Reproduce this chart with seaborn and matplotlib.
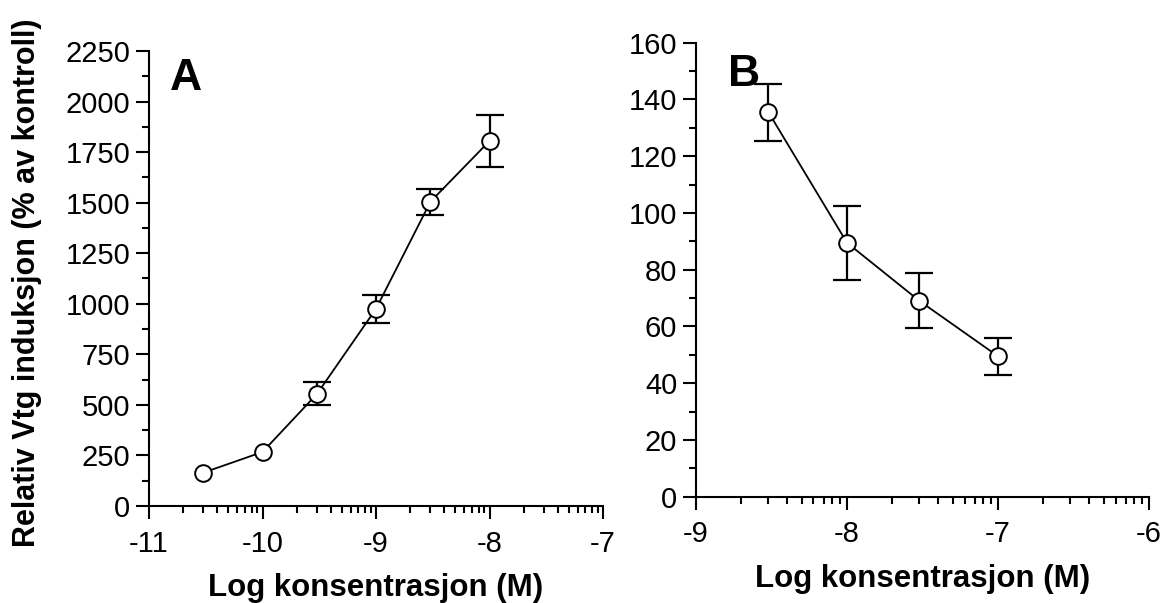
"""Vtg-induksjon: to paneler (A, B) med dose-respons og feilstolper."""

import matplotlib
matplotlib.use("Agg")
import matplotlib.pyplot as plt
import numpy as np
import pandas as pd
import seaborn as sns
from matplotlib.ticker import FixedLocator, MultipleLocator

sns.set_theme(style="ticks")
plt.rcParams["font.family"] = ["Liberation Sans", "DejaVu Sans"]
plt.rcParams["text.color"] = "black"
plt.rcParams["axes.labelcolor"] = "black"

# ---------- data ----------
a_logconc = [-10.52, -10.0, -9.52, -9.0, -8.52, -8.0]
a_mean = [165, 267, 554, 975, 1505, 1805]
a_err = [38, 30, 57, 69, 65, 127]

b_logconc = [-8.52, -8.0, -7.52, -7.0]
b_mean = [135.5, 89.5, 69.0, 49.5]
b_err = [10.0, 13.0, 9.7, 6.5]

a_xticks = [-11, -10, -9, -8, -7]
b_xticks = [-9, -8, -7, -6]

xlabel = "Log konsentrasjon (M)"
ylabel = "Relativ Vtg induksjon (% av kontroll)"

MARKER_R = 8.5  # px, radius of the open circles


def log_minor(lo, hi):
    return [d + np.log10(k) for d in range(lo, hi) for k in range(2, 10)]


def draw_panel(ax, x, y, err, xticks, ylim, ymajor, letter, letter_pos):
    df = pd.DataFrame({"x": x, "y": y})
    ax.set_xlim(xticks[0], xticks[-1])
    ax.set_ylim(*ylim)
    # error bars shorter than the symbol get no caps (they hide inside it)
    px_per_unit = ax.get_window_extent().height / (ylim[1] - ylim[0])
    big = [e * px_per_unit > MARKER_R for e in err]
    for flag, cap in ((True, 10), (False, 0)):
        xs = [xi for xi, b in zip(x, big) if b == flag]
        if not xs:
            continue
        ys = [yi for yi, b in zip(y, big) if b == flag]
        es = [ei for ei, b in zip(err, big) if b == flag]
        ax.errorbar(xs, ys, yerr=es, fmt="none", ecolor="black", elinewidth=1.6,
                    capsize=cap, capthick=1.6, zorder=2)
    sns.lineplot(data=df, x="x", y="y", ax=ax, color="black", linewidth=1.3,
                 marker="o", markersize=12, markerfacecolor="white",
                 markeredgecolor="black", markeredgewidth=1.4, zorder=3)
    ax.set_xticks(xticks)
    ax.set_xticklabels([str(t) for t in xticks])
    ax.xaxis.set_minor_locator(FixedLocator(log_minor(xticks[0], xticks[-1])))
    ax.yaxis.set_major_locator(MultipleLocator(ymajor))
    ax.yaxis.set_minor_locator(MultipleLocator(ymajor / 2))
    ax.tick_params(which="major", length=9.5, width=1.5, labelsize=21, color="black",
                   labelcolor="black", pad=4)
    ax.tick_params(axis="x", which="major", pad=7.5)
    ax.tick_params(which="minor", length=5, width=1.5, color="black")
    sns.despine(ax=ax)
    for s in ("left", "bottom"):
        ax.spines[s].set_linewidth(1.5)
        ax.spines[s].set_color("black")
    ax.set_xlabel(xlabel, fontsize=22.5, fontweight="bold", labelpad=11)
    ax.set_ylabel("")
    ax.text(*letter_pos, letter, transform=ax.transAxes, fontsize=32,
            fontweight="bold", ha="left", va="top", color="black")


fig = plt.figure(figsize=(11.65, 6.03), dpi=100)
ax_a = fig.add_axes([0.1279, 0.1609, 0.3897, 0.7545])
ax_b = fig.add_axes([0.5974, 0.1763, 0.3889, 0.7528])

draw_panel(ax_a, a_logconc, a_mean, a_err, a_xticks, (0, 2250), 250, "A", (0.045, 0.985))
draw_panel(ax_b, b_logconc, b_mean, b_err, b_xticks, (0, 160), 20, "B", (0.07, 0.975))

ax_a.set_ylabel(ylabel, fontsize=22, fontweight="bold")
ax_a.yaxis.set_label_coords(-0.236, 0.49)

fig.savefig("out.png", dpi=100)
